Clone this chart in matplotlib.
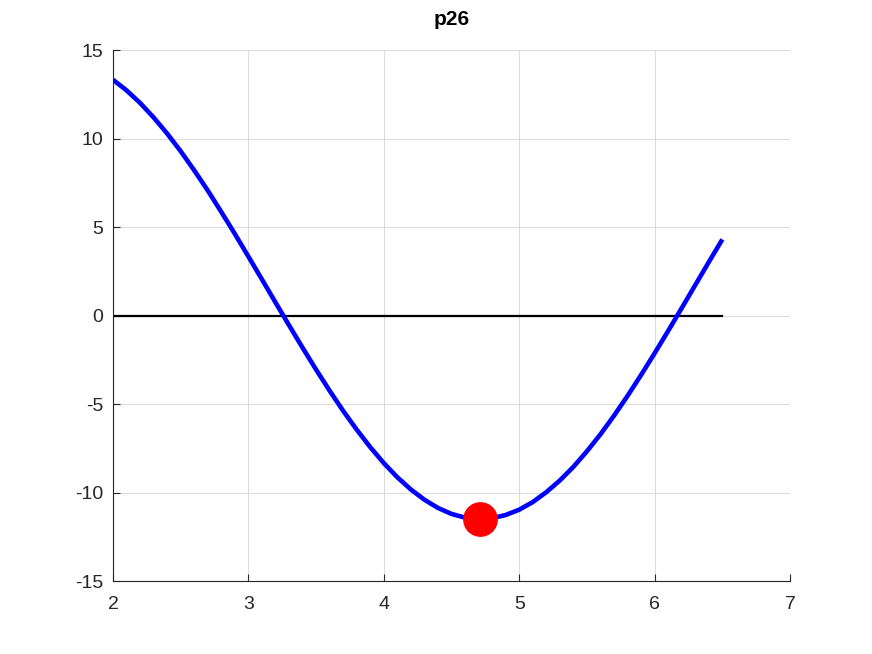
import matplotlib
matplotlib.use("Agg")
import matplotlib.pyplot as plt

# curve values (every 0.1 on x)
x_curva = [2.0, 2.1, 2.2, 2.3, 2.4, 2.5, 2.6, 2.7, 2.8, 2.9,
           3.0, 3.1, 3.2, 3.3, 3.4, 3.5, 3.6, 3.7, 3.8, 3.9,
           4.0, 4.1, 4.2, 4.3, 4.4, 4.5, 4.6, 4.7, 4.8, 4.9,
           5.0, 5.1, 5.2, 5.3, 5.4, 5.5, 5.6, 5.7, 5.8, 5.9,
           6.0, 6.1, 6.2, 6.3, 6.4, 6.5]
y_curva = [13.32, 12.72, 12.01, 11.19, 10.28, 9.28, 8.20, 7.06, 5.85, 4.61,
           3.33, 2.04, 0.74, -0.55, -1.82, -3.06, -4.25, -5.39, -6.45, -7.44,
           -8.34, -9.14, -9.83, -10.41, -10.87, -11.21, -11.42, -11.50, -11.45, -11.27,
           -10.97, -10.54, -9.98, -9.32, -8.55, -7.67, -6.71, -5.66, -4.54, -3.36,
           -2.13, -0.87, 0.42, 1.72, 3.02, 4.30]
x_cero = [2.0, 6.5]
y_cero = [0.0, 0.0]
x_min = [4.71]
y_min = [-11.5]
xticks = [2, 3, 4, 5, 6, 7]
yticks = [-15, -10, -5, 0, 5, 10, 15]

plt.rcParams['font.family'] = ['Liberation Sans', 'DejaVu Sans']

fig = plt.figure(figsize=(8.72, 6.54), dpi=100)
ax = fig.add_axes([0.1296, 0.1116, 0.7764, 0.8119])

ax.plot(x_curva, y_curva, color='#0000ff', linewidth=3.3, solid_capstyle='butt',
        solid_joinstyle='round', zorder=3)
ax.plot(x_cero, y_cero, color='black', linewidth=1.6, zorder=2)
ax.plot(x_min, y_min, 'o', color='#ff0000', markersize=24, zorder=4)

ax.set_xlim(2, 7)
ax.set_ylim(-15, 15)
ax.set_xticks(xticks)
ax.set_yticks(yticks)
ax.set_xticklabels([str(t) for t in xticks])
ax.set_yticklabels([str(t) for t in yticks])
ax.grid(True, color='#dcdcdc', linewidth=0.8)
ax.set_axisbelow(True)
ax.spines['top'].set_visible(False)
ax.spines['right'].set_visible(False)
ax.spines['left'].set_color('#262626')
ax.spines['bottom'].set_color('#262626')
ax.tick_params(direction='in', length=5, labelsize=14, colors='#262626')
ax.tick_params(axis='x', pad=11)
ax.tick_params(axis='y', pad=7)
ax.set_title('p26', fontsize=15, fontweight='bold', pad=18)

fig.savefig('out.png', dpi=100)
